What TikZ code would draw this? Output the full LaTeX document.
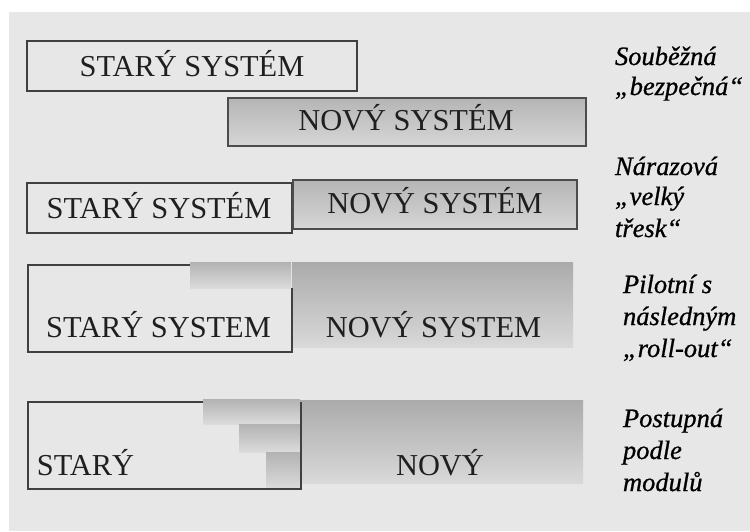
\documentclass[tikz,border=0pt]{standalone}
\usepackage{fontspec}
\setmainfont{Liberation Serif}
\newfontfamily\labfont{Liberation Serif}[ItalicFont={Liberation Serif Italic}, ItalicFeatures={FakeBold=0.8}]
\begin{document}
\begin{tikzpicture}[x=1pt,y=-1pt,
  every node/.style={inner sep=0pt, outer sep=0pt},
  boxtxt/.style={anchor=base, font=\fontsize{30.4}{33}\selectfont, text=black!88},
  lab/.style={anchor=base west, font=\labfont\fontsize{26.5}{31}\selectfont\itshape, text=black},
  oldbox/.style={draw=black!75, line width=1.3pt},
  newbox/.style={draw=black!70, line width=1.3pt, top color=black!29, bottom color=black!16},
  newfill/.style={top color=black!33, bottom color=black!15},
  barfill/.style={top color=black!30, bottom color=black!14}]
\useasboundingbox (0,0) rectangle (750,531);
\fill[white] (0,0) rectangle (750,531);
\fill[black!9.5] (9,12) rectangle (750,531);

% Row 1
\draw[oldbox] (27,41) rectangle (357,91);
\draw[newbox] (228,98) rectangle (586,146);
\node[boxtxt] (s1) at (192,76) {STARÝ SYSTÉM};
\node[boxtxt] (n1) at (406,130) {NOVÝ SYSTÉM};

% Row 2
\draw[oldbox] (27,183) rectangle (292,233);
\draw[newbox] (293,180) rectangle (577,229);
\node[boxtxt] (s2) at (159,218) {STARÝ SYSTÉM};
\node[boxtxt] (n2) at (435,213) {NOVÝ SYSTÉM};

% Row 3
\fill[newfill] (292,262) rectangle (573,347);
\fill[barfill] (190,262) rectangle (291,288);
\draw[oldbox] (190,265) -- (28,265) -- (28,352) -- (292,352) -- (292,288);
\node[boxtxt] (s3) at (158.5,337) {STARÝ SYSTEM};
\node[boxtxt] (n3) at (433.5,337) {NOVÝ SYSTEM};

% Row 4
\fill[newfill] (300,400) rectangle (583,483);
\fill[barfill] (203,399) rectangle (300,424);
\fill[barfill] (239,424) rectangle (300,452);
\fill[barfill] (266,452) rectangle (300,489);
\draw[oldbox] (203,402) -- (28,402) -- (28,489) -- (301,489) -- (301,402);
\node[boxtxt] (s4) at (85.5,475) {STARÝ};
\node[boxtxt] (n4) at (440,475) {NOVÝ};

% Labels
\node[lab] (a1) at (615,65) {Souběžná};
\node[lab] (a2) at (615,95) {„bezpečná“};
\node[lab] (b1) at (615,175) {Nárazová};
\node[lab] (b2) at (615,205) {„velký};
\node[lab] (b3) at (615,237) {třesk“};
\node[lab] (c1) at (623,293) {Pilotní s};
\node[lab] (c2) at (623,325) {následným};
\node[lab] (c3) at (623,357) {„roll-out“};
\node[lab] (d1) at (623,427) {Postupná};
\node[lab] (d2) at (623,459) {podle};
\node[lab] (d3) at (623,491) {modulů};
\end{tikzpicture}
\end{document}
